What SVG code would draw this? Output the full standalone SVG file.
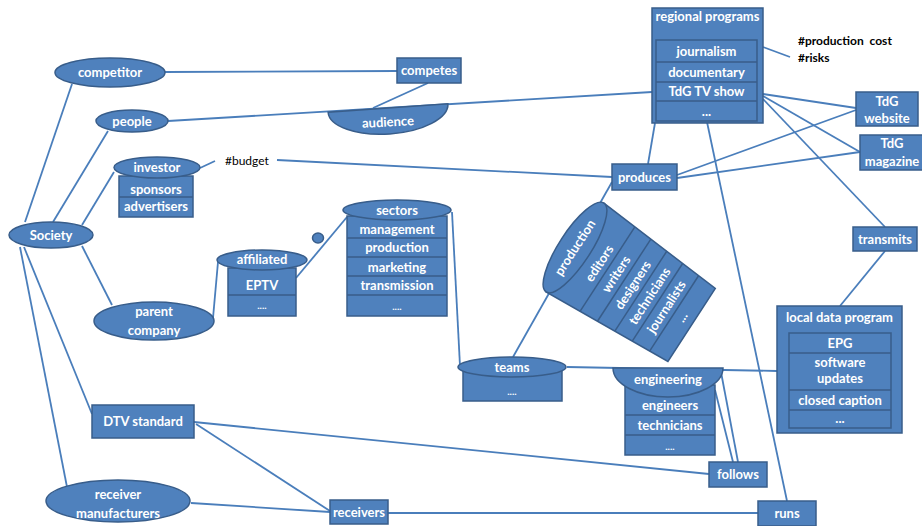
<svg xmlns="http://www.w3.org/2000/svg" width="922" height="526" viewBox="0 0 922 526">
<style>
.n{fill:#4f81bd;stroke:#385d8a;stroke-width:1.5}
.s{stroke:#385d8a;stroke-width:1.5;fill:none}
.t{font-family:Lato,"Open Sans","Liberation Sans",sans-serif;font-weight:bold;font-size:13px;fill:#fff;text-anchor:middle}
.k{font-family:Lato,"Open Sans","Liberation Sans",sans-serif;font-size:12px;fill:#000}
#edges line{stroke:#4a7ebb;stroke-width:1.8}
</style>
<rect width="922" height="526" fill="#fff"/>
<g id="edges">
<line x1="25" y1="222" x2="72" y2="84"/>
<line x1="53" y1="222" x2="108" y2="131"/>
<line x1="82" y1="225" x2="114" y2="172"/>
<line x1="82" y1="246" x2="112" y2="305"/>
<line x1="24" y1="247" x2="92" y2="414"/>
<line x1="20" y1="247" x2="67" y2="487"/>
<line x1="165" y1="72" x2="397" y2="71"/>
<line x1="428" y1="83" x2="373" y2="108"/>
<line x1="168" y1="121" x2="652" y2="92"/>
<line x1="200" y1="168" x2="215" y2="161"/>
<line x1="277" y1="160" x2="612" y2="177"/>
<line x1="648" y1="164" x2="655" y2="123"/>
<line x1="612" y1="182" x2="513" y2="357"/>
<line x1="677" y1="175" x2="856" y2="110"/>
<line x1="677" y1="178" x2="860" y2="152"/>
<line x1="763" y1="94" x2="856" y2="108"/>
<line x1="763" y1="96" x2="860" y2="152"/>
<line x1="763" y1="99" x2="885" y2="227"/>
<line x1="763" y1="47" x2="790" y2="57"/>
<line x1="707" y1="122" x2="787" y2="501"/>
<line x1="885" y1="251" x2="840" y2="306"/>
<line x1="213" y1="318" x2="218" y2="262"/>
<line x1="296" y1="278" x2="347" y2="217"/>
<line x1="452" y1="212" x2="460" y2="366"/>
<line x1="567" y1="367" x2="777" y2="371"/>
<line x1="721" y1="372" x2="738" y2="462"/>
<line x1="715" y1="390" x2="733" y2="462"/>
<line x1="194" y1="422" x2="709" y2="474"/>
<line x1="196" y1="424" x2="330" y2="511"/>
<line x1="191" y1="503" x2="330" y2="512"/>
<line x1="388" y1="513" x2="758" y2="513"/>
</g>
<g id="competitor"><ellipse class="n" cx="110" cy="72.5" rx="55" ry="14.5"/><text class="t" x="110" y="77">competitor</text></g>
<g id="people"><ellipse class="n" cx="132" cy="121" rx="36" ry="11"/><text class="t" x="132" y="125.5">people</text></g>
<g id="investor"><rect class="n" x="119" y="176" width="74" height="41"/><line class="s" x1="119" y1="197" x2="193" y2="197"/><ellipse class="n" cx="157" cy="167.5" rx="43" ry="10.5"/><text class="t" x="157" y="172">investor</text><text class="t" x="156" y="193.5">sponsors</text><text class="t" x="156" y="211">advertisers</text></g>
<g id="budget"><text class="k" x="225" y="164.5">#budget</text></g>
<g id="society"><ellipse class="n" cx="51" cy="235" rx="42" ry="13"/><text class="t" x="51" y="239.5">Society</text></g>
<g id="parent-company"><ellipse class="n" cx="154" cy="321" rx="60" ry="19"/><text class="t" x="154" y="316">parent</text><text class="t" x="154" y="334.5">company</text></g>
<g id="affiliated"><rect class="n" x="228" y="268" width="68" height="48"/><line class="s" x1="228" y1="295" x2="296" y2="295"/><ellipse class="n" cx="262" cy="260" rx="45" ry="10"/><text class="t" x="262" y="264">affiliated</text><text class="t" x="262" y="290">EPTV</text><text class="t" x="262" y="309" style="font-size:10px">....</text></g>
<g id="dot"><ellipse class="n" cx="318" cy="238" rx="5.5" ry="5"/></g>
<g id="sectors"><rect class="n" x="347" y="216" width="100" height="100"/><line class="s" x1="347" y1="238" x2="447" y2="238"/><line class="s" x1="347" y1="257" x2="447" y2="257"/><line class="s" x1="347" y1="276" x2="447" y2="276"/><line class="s" x1="347" y1="295" x2="447" y2="295"/><ellipse class="n" cx="397" cy="210" rx="54" ry="10"/><text class="t" x="397" y="214.5">sectors</text><text class="t" x="397" y="233.5">management</text><text class="t" x="397" y="252">production</text><text class="t" x="397" y="271.5">marketing</text><text class="t" x="397" y="290">transmission</text><text class="t" x="397" y="310" style="font-size:10px">....</text></g>
<g id="audience"><path class="n" d="M328.1,112.2 A60,26 -4 0 0 447.9,103.8 Z"/><text class="t" x="388" y="126.5" transform="rotate(-3 388 122)">audience</text></g>
<g id="competes"><rect class="n" x="397" y="58" width="64" height="25"/><text class="t" x="429" y="75">competes</text></g>
<g id="regional-programs"><rect class="n" x="652" y="8" width="111" height="115"/><rect class="n" x="656" y="40" width="101" height="81"/><line class="s" x1="656" y1="62" x2="757" y2="62"/><line class="s" x1="656" y1="82" x2="757" y2="82"/><line class="s" x1="656" y1="101" x2="757" y2="101"/><text class="t" x="707.5" y="21">regional programs</text><text class="t" x="706.5" y="56">journalism</text><text class="t" x="706.5" y="77">documentary</text><text class="t" x="706.5" y="96">TdG TV show</text><text class="t" x="706.5" y="116">...</text></g>
<g id="production-cost"><text class="k" x="798" y="44.5" style="font-weight:bold">#production&#160; cost</text><text class="k" x="798" y="61.5" style="font-weight:bold">#risks</text></g>
<g id="tdg-website"><rect class="n" x="856" y="92" width="62" height="34"/><text class="t" x="887" y="105.5">TdG</text><text class="t" x="887" y="122.5">website</text></g>
<g id="tdg-magazine"><rect class="n" x="860" y="135" width="64" height="35"/><text class="t" x="892" y="147.5">TdG</text><text class="t" x="892" y="166">magazine</text></g>
<g id="produces"><rect class="n" x="612" y="164" width="65" height="26"/><text class="t" x="644.5" y="181.5">produces</text></g>
<g id="transmits"><rect class="n" x="853" y="227" width="64" height="24"/><text class="t" x="885" y="243.5">transmits</text></g>
<g id="production" transform="translate(575,247.5) rotate(-57)"><path class="n" d="M-53,0 L53,0 L42,140 L-45,140 Z"/><line class="s" x1="-50.8" y1="39" x2="49.9" y2="39"/><line class="s" x1="-49.6" y1="59" x2="48.4" y2="59"/><line class="s" x1="-48.5" y1="79" x2="46.8" y2="79"/><line class="s" x1="-47.3" y1="99" x2="45.2" y2="99"/><line class="s" x1="-46.2" y1="119" x2="43.6" y2="119"/><ellipse class="n" cx="0" cy="0" rx="53" ry="16"/><text class="t" x="0" y="4.5">production</text><text class="t" x="0" y="33.5">editors</text><text class="t" x="0" y="53.5">writers</text><text class="t" x="0" y="73.5">designers</text><text class="t" x="0" y="93.5">technicians</text><text class="t" x="0" y="113.5">journalists</text><text class="t" x="0" y="132">...</text></g>
<g id="teams"><rect class="n" x="463" y="370" width="99" height="31"/><ellipse class="n" cx="512" cy="367" rx="54" ry="10"/><text class="t" x="512" y="372">teams</text><text class="t" x="512" y="395" style="font-size:10px">....</text></g>
<g id="engineering"><rect class="n" x="625" y="385" width="90" height="70"/><line class="s" x1="625" y1="415" x2="715" y2="415"/><line class="s" x1="625" y1="435" x2="715" y2="435"/><path class="n" d="M613,368 L723,368 A55,29 0 0 1 613,368 Z"/><text class="t" x="668" y="384">engineering</text><text class="t" x="670" y="409.5">engineers</text><text class="t" x="670" y="429.5">technicians</text><text class="t" x="670" y="450" style="font-size:10px">....</text></g>
<g id="local-data-program"><rect class="n" x="777" y="306" width="125" height="127"/><rect class="n" x="789" y="333" width="102" height="95"/><line class="s" x1="789" y1="353" x2="891" y2="353"/><line class="s" x1="789" y1="390" x2="891" y2="390"/><line class="s" x1="789" y1="410" x2="891" y2="410"/><text class="t" x="839.5" y="321.5">local data program</text><text class="t" x="840" y="347.5">EPG</text><text class="t" x="840" y="367">software</text><text class="t" x="840" y="383">updates</text><text class="t" x="840" y="405">closed caption</text><text class="t" x="840" y="423">...</text></g>
<g id="dtv-standard"><rect class="n" x="92" y="405" width="102" height="33"/><text class="t" x="143" y="426">DTV standard</text></g>
<g id="receiver-manufacturers"><ellipse class="n" cx="118" cy="501" rx="72" ry="21"/><text class="t" x="118" y="499">receiver</text><text class="t" x="118" y="517.5">manufacturers</text></g>
<g id="receivers"><rect class="n" x="330" y="500" width="58" height="24"/><text class="t" x="359" y="516.5">receivers</text></g>
<g id="follows"><rect class="n" x="709" y="462" width="58" height="25"/><text class="t" x="738" y="479">follows</text></g>
<g id="runs"><rect class="n" x="758" y="501" width="58" height="25"/><text class="t" x="787" y="518">runs</text></g>
</svg>
